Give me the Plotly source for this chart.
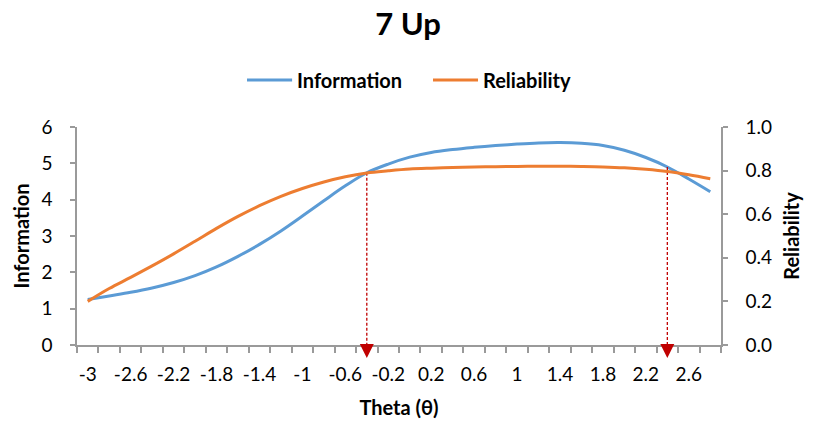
import plotly.graph_objects as go

theta = [-3.0, -2.8, -2.6, -2.4, -2.2, -2.0, -1.8, -1.6, -1.4, -1.2, -1.0, -0.8, -0.6, -0.4, -0.2,
         0.0, 0.2, 0.4, 0.6, 0.8, 1.0, 1.2, 1.4, 1.6, 1.8, 2.0, 2.2, 2.4, 2.6, 2.8]
information = [1.25, 1.35, 1.45, 1.57, 1.72, 1.91, 2.15, 2.44, 2.77, 3.14, 3.55, 3.97, 4.38, 4.74, 4.98,
               5.17, 5.30, 5.38, 5.44, 5.49, 5.53, 5.56, 5.57, 5.55, 5.49, 5.36, 5.16, 4.90, 4.57, 4.22]
reliability = [0.200, 0.259, 0.310, 0.363, 0.418, 0.476, 0.535, 0.590, 0.639, 0.682, 0.718, 0.748, 0.772,
               0.789, 0.799, 0.807, 0.811, 0.814, 0.816, 0.818, 0.819, 0.820, 0.820, 0.819, 0.817, 0.813,
               0.806, 0.796, 0.781, 0.763]
tick_labels = ["-3", "-2.6", "-2.2", "-1.8", "-1.4", "-1", "-0.6", "-0.2", "0.2", "0.6", "1", "1.4", "1.8", "2.2", "2.6"]
tick_positions = theta[::2]
marked_theta = [-0.4, 2.4]
series_names = ["Information", "Reliability"]

FONT = "Lato"
BLUE = "#5B9BD5"
ORANGE = "#ED7D31"
RED = "#C00000"
AXIS = "#9A9A9A"
TICKSIZE = 19
TITLESIZE = 20

fig = go.Figure()
fig.add_trace(go.Scatter(x=theta, y=information, name=series_names[0], mode="lines", showlegend=False,
                         line=dict(color=BLUE, width=3, shape="spline", smoothing=1.0)))
fig.add_trace(go.Scatter(x=theta, y=reliability, name=series_names[1], mode="lines", yaxis="y2",
                         showlegend=False,
                         line=dict(color=ORANGE, width=3, shape="spline", smoothing=1.0)))

# dashed drop lines and arrow heads
for t in marked_theta:
    idx = min(range(len(theta)), key=lambda i: abs(theta[i] - t))
    fig.add_trace(go.Scatter(x=[t, t], y=[information[idx], 0], mode="lines", showlegend=False,
                             hoverinfo="skip", line=dict(color=RED, width=1.3, dash="3px,2px")))
    fig.add_shape(type="path", xref="x", yref="paper", xsizemode="pixel", ysizemode="pixel",
                  xanchor=t, yanchor=0, path="M-7,1 L7,1 L0,-13 Z",
                  fillcolor=RED, line=dict(color=RED, width=0), layer="above")

# custom legend (Excel-style long line samples)
legend_items = [(series_names[0], BLUE, 0.264, 0.334), (series_names[1], ORANGE, 0.5528, 0.6227)]
LEG_Y = 1.2156
for name, color, x0, x1 in legend_items:
    fig.add_shape(type="line", xref="paper", yref="paper", x0=x0, x1=x1, y0=LEG_Y, y1=LEG_Y,
                  line=dict(color=color, width=3))
    fig.add_annotation(xref="paper", yref="paper", x=x1 + 0.004, y=LEG_Y, xanchor="left",
                       yanchor="middle", showarrow=False, text=f"<b>{name}</b>",
                       font=dict(family=FONT, size=TITLESIZE, color="#000000"))

fig.update_layout(
    width=816, height=424,
    margin=dict(l=77, r=95, t=127, b=79, autoexpand=False),
    paper_bgcolor="white", plot_bgcolor="white",
    font=dict(family=FONT, size=TICKSIZE, color="#000000"),
    title=dict(text="<b>7 Up</b>", x=0.5, xanchor="center", y=1 - 24 / 424, yanchor="middle",
               font=dict(family=FONT, size=31, color="#000000")),
    showlegend=False,
    xaxis=dict(range=[-3.1, 2.9], tickvals=tick_positions, ticktext=tick_labels, ticks="",
               showline=True, linecolor=AXIS, linewidth=1.5, showgrid=False, zeroline=False,
               automargin=False,
               tickfont=dict(family=FONT, size=TICKSIZE, color="#000000"), ticklabelstandoff=11,
               minor=dict(tick0=-3.1, dtick=0.2, ticks="outside", ticklen=6, tickcolor=AXIS,
                          tickwidth=1.5, showgrid=False),
               title=dict(text="<b>Theta (θ)</b>", font=dict(family=FONT, size=TITLESIZE), standoff=17)),
    yaxis=dict(range=[0, 6], dtick=1, ticks="outside", ticklen=5, tickcolor=AXIS, tickwidth=1.5,
               showline=True, linecolor=AXIS, linewidth=1.5, showgrid=False, zeroline=False,
               automargin=False,
               tickfont=dict(family=FONT, size=TICKSIZE, color="#000000"), ticklabelstandoff=14,
               title=dict(text="<b>Information</b>", font=dict(family=FONT, size=TITLESIZE), standoff=6)),
    yaxis2=dict(range=[0, 1], dtick=0.2, tickformat=".1f", overlaying="y", side="right",
                ticks="outside", ticklen=5, tickcolor=AXIS, tickwidth=1.5,
                showline=True, linecolor=AXIS, linewidth=1.5, showgrid=False, zeroline=False,
                automargin=False,
                tickfont=dict(family=FONT, size=TICKSIZE, color="#000000"), ticklabelstandoff=14,
                title=dict(text="<b>Reliability</b>", font=dict(family=FONT, size=TITLESIZE), standoff=14)),
)

fig.write_html("out.html")
